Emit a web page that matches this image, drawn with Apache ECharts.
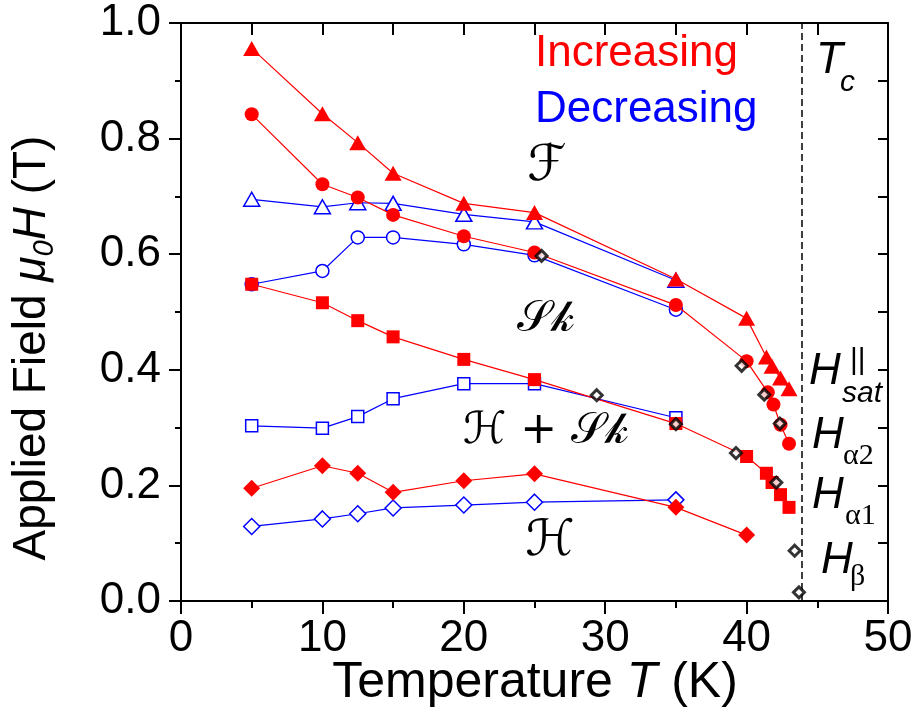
<!DOCTYPE html>
<html>
<head>
<meta charset="utf-8">
<script src="https://cdn.jsdelivr.net/npm/echarts@6/dist/echarts.min.js"></script>
<style>
html, body { margin: 0; padding: 0; background: #fff; }
#main { width: 916px; height: 725px; }
</style>
</head>
<body>
<div id="main"></div>
<script>
// field sweep increasing (red, filled) / decreasing (blue, open)
var satIncT = [5, 10, 12.5, 15, 20, 25, 35, 40, 41.4, 41.8, 42.4, 43];
var satIncV = [0.956, 0.843, 0.793, 0.740, 0.688, 0.672, 0.557, 0.489, 0.422, 0.406, 0.386, 0.367];
var satDecT = [5, 10, 12.5, 15, 20, 25, 35];
var satDecV = [0.695, 0.682, 0.689, 0.688, 0.669, 0.656, 0.555];

var a2IncT = [5, 10, 12.5, 15, 20, 25, 35, 40, 41.5, 41.9, 42.4, 43];
var a2IncV = [0.842, 0.721, 0.698, 0.668, 0.631, 0.603, 0.512, 0.415, 0.361, 0.340, 0.305, 0.272];
var a2DecT = [5, 10, 12.5, 15, 20, 25, 35];
var a2DecV = [0.548, 0.571, 0.629, 0.629, 0.617, 0.598, 0.504];

var a1IncT = [5, 10, 12.5, 15, 20, 25, 35, 40, 41.4, 41.8, 42.4, 43];
var a1IncV = [0.548, 0.516, 0.485, 0.457, 0.418, 0.383, 0.307, 0.250, 0.221, 0.205, 0.184, 0.162];
var a1DecT = [5, 10, 12.5, 15, 20, 25, 35];
var a1DecV = [0.303, 0.299, 0.319, 0.350, 0.376, 0.376, 0.317];

var hIncT = [5, 10, 12.5, 15, 20, 25, 35, 40];
var hIncV = [0.195, 0.234, 0.221, 0.188, 0.208, 0.220, 0.162, 0.114];
var hDecT = [5, 10, 12.5, 15, 20, 25, 35];
var hDecV = [0.129, 0.142, 0.151, 0.161, 0.166, 0.171, 0.175];

// other measurement (black open diamonds)
var otherT = [25.5, 29.4, 35, 39.65, 39.25, 41.25, 42.35, 42.1, 43.4, 43.7];
var otherV = [0.597, 0.356, 0.306, 0.407, 0.256, 0.357, 0.307, 0.205, 0.087, 0.015];

var tc = 43.9;

var RED = '#ff0000', BLUE = '#0000ff';
var SANS = "'Liberation Sans', Arial, sans-serif";
var SERIF = "'Liberation Serif', 'Times New Roman', serif";
var SCRIPT = "'DejaVu Sans', 'DejaVu Serif', serif";

function pts(xs, ys) {
    return xs.map(function (x, i) { return [x, ys[i]]; });
}

function openLine(xs, ys, sym, size) {
    return {
        type: 'line', data: pts(xs, ys), symbol: sym, symbolSize: size, showAllSymbol: true,
        lineStyle: { color: BLUE, width: 1.2 },
        itemStyle: { color: '#fff', borderColor: BLUE, borderWidth: 1.5 },
        z: 2
    };
}
function fullLine(xs, ys, sym, size) {
    return {
        type: 'line', data: pts(xs, ys), symbol: sym, symbolSize: size, showAllSymbol: true,
        lineStyle: { color: RED, width: 1.2 },
        itemStyle: { color: RED, borderWidth: 0 },
        z: 3
    };
}

function txt(x, y, text, font, color, extra) {
    var st = { text: text, font: font, fill: color || '#000', align: 'left', verticalAlign: 'middle',
        textAlign: 'left', textVerticalAlign: 'middle' };
    for (var k in (extra || {})) st[k] = extra[k];
    return { type: 'text', x: x, y: y, style: st, z: 10 };
}
var mid = { align: 'center', textAlign: 'center' };

var axisLine = { show: true, onZero: false, lineStyle: { color: '#000', width: 2 } };
var tickStyle = { color: '#000', width: 2 };

var option = {
    animation: false,
    backgroundColor: '#fff',
    grid: { left: 181, right: 28, top: 23, bottom: 124 },
    xAxis: [{
        type: 'value', min: 0, max: 50, interval: 10, position: 'bottom',
        axisLine: axisLine,
        axisTick: { show: true, inside: false, length: 13, lineStyle: tickStyle },
        minorTick: { show: true, splitNumber: 2, length: 7, lineStyle: tickStyle },
        axisLabel: { fontSize: 44, color: '#000', fontFamily: SANS, margin: 16 },
        splitLine: { show: false }
    }, {
        type: 'value', min: 0, max: 50, interval: 5, position: 'top',
        axisLine: axisLine,
        axisTick: { show: true, inside: true, length: 12, lineStyle: tickStyle },
        axisLabel: { show: false },
        splitLine: { show: false }
    }],
    yAxis: [{
        type: 'value', min: 0, max: 1, interval: 0.2, position: 'left',
        axisLine: axisLine,
        axisTick: { show: true, inside: false, length: 12, lineStyle: tickStyle },
        minorTick: { show: true, splitNumber: 2, length: 6, lineStyle: tickStyle },
        axisLabel: { fontSize: 44, color: '#000', fontFamily: SANS, margin: 20,
            formatter: function (v) { return v.toFixed(1); } },
        splitLine: { show: false }
    }, {
        type: 'value', min: 0, max: 1, interval: 0.1, position: 'right',
        axisLine: axisLine,
        axisTick: { show: true, inside: true, length: 10, lineStyle: tickStyle },
        axisLabel: { show: false },
        splitLine: { show: false }
    }],
    series: [
        openLine(satDecT, satDecV, 'triangle', [16, 14]),
        openLine(a2DecT, a2DecV, 'circle', 13),
        openLine(a1DecT, a1DecV, 'rect', 12),
        openLine(hDecT, hDecV, 'diamond', 16),
        fullLine(satIncT, satIncV, 'triangle', [17, 15]),
        fullLine(a2IncT, a2IncV, 'circle', 14),
        fullLine(a1IncT, a1IncV, 'rect', 13),
        fullLine(hIncT, hIncV, 'diamond', 17),
        {
            type: 'scatter', data: pts(otherT, otherV), symbol: 'diamond', symbolSize: 11,
            itemStyle: { color: '#fff', borderColor: '#000', borderWidth: 3 },
            z: 5,
            markLine: {
                silent: true, symbol: ['none', 'none'], label: { show: false },
                lineStyle: { color: '#000', type: [7, 4], width: 1.5 },
                data: [{ xAxis: tc }]
            }
        }
    ],
    graphic: [
        txt(535, 54, 'Increasing', '44px ' + SANS, RED),
        txt(535, 110, 'Decreasing', '44px ' + SANS, BLUE),
        txt(816, 61, 'T', 'italic 44px ' + SANS),
        txt(840, 83, 'c', 'italic 30px ' + SANS),
        txt(547, 167, '\u2131', 'italic 50px ' + SCRIPT, '#000', mid),
        txt(546, 320, '\uD835\uDCAE\uD835\uDCC0', '44px ' + SCRIPT, '#000', mid),
        txt(546, 432, '\u210B + \uD835\uDCAE\uD835\uDCC0', '44px ' + SCRIPT, '#000', mid),
        txt(550, 542, '\u210B', 'italic 50px ' + SCRIPT, '#000', mid),
        txt(809, 372, 'H', 'italic 44px ' + SANS),
        txt(850, 361, '||', '30px ' + SANS),
        txt(842, 394, 'sat', 'italic 30px ' + SANS),
        txt(812, 436, 'H', 'italic 44px ' + SANS),
        txt(843, 456, '\u03B12', '30px ' + SERIF),
        txt(812, 496, 'H', 'italic 44px ' + SANS),
        txt(845, 516, '\u03B11', '30px ' + SERIF),
        txt(821, 561, 'H', 'italic 44px ' + SANS),
        txt(850, 577, '\u03B2', '30px ' + SERIF),
        {
            type: 'text', x: 535, y: 683, z: 10,
            style: {
                text: '{n|Temperature }{i|T}{n| (K)}', align: 'center', verticalAlign: 'middle',
                textAlign: 'center', textVerticalAlign: 'middle',
                rich: {
                    n: { fontSize: 50, fontFamily: SANS, fill: '#000', color: '#000' },
                    i: { fontSize: 50, fontFamily: SANS, fontStyle: 'italic', fill: '#000', color: '#000' }
                }
            }
        },
        {
            type: 'text', x: 32, y: 348, rotation: Math.PI / 2, z: 10,
            style: {
                text: '{n|Applied Field }{i|\u03BC}{s|0}{i|H}{n| (T)}', align: 'center', verticalAlign: 'middle',
                textAlign: 'center', textVerticalAlign: 'middle',
                rich: {
                    n: { fontSize: 46, lineHeight: 54, fontFamily: SANS, fill: '#000', color: '#000' },
                    i: { fontSize: 46, lineHeight: 54, fontFamily: SANS, fontStyle: 'italic', fill: '#000', color: '#000' },
                    s: { fontSize: 29, lineHeight: 29, fontFamily: SANS, fontStyle: 'italic', verticalAlign: 'bottom', fill: '#000', color: '#000' }
                }
            }
        }
    ]
};

var chart = echarts.init(document.getElementById('main'));
chart.setOption(option);
</script>
</body>
</html>
